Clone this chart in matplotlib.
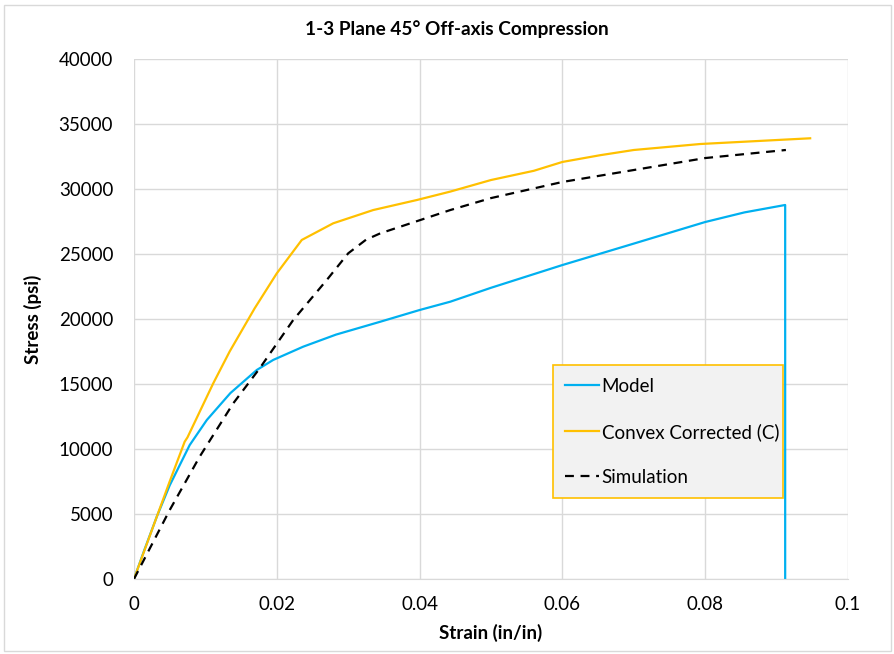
import matplotlib
matplotlib.use('Agg')
import matplotlib.pyplot as plt
from matplotlib.patches import Rectangle

plt.rcParams['font.family'] = ['Lato', 'DejaVu Sans']

# Model curve
model_strain = [0, 0.0015, 0.0032, 0.005, 0.0078, 0.0102, 0.0135, 0.0172, 0.0195, 0.0237,
                0.0283, 0.0345, 0.04, 0.0443, 0.05, 0.06, 0.07, 0.08, 0.0855, 0.0912, 0.0912]
model_stress = [0, 2300, 4800, 7200, 10300, 12230, 14300, 16077, 16850, 17870,
                18800, 19790, 20690, 21330, 22400, 24150, 25800, 27460, 28200, 28770, 0]

# Convex corrected curve
conv_strain = [0, 0.0015, 0.0032, 0.005, 0.0071, 0.0075, 0.0111, 0.0134, 0.0169, 0.02,
               0.0235, 0.0279, 0.0335, 0.0396, 0.0443, 0.05, 0.056, 0.06, 0.0653, 0.07,
               0.0793, 0.0947]
conv_stress = [0, 2250, 4800, 7500, 10560, 10900, 15050, 17500, 20820, 23510,
               26080, 27360, 28380, 29150, 29800, 30690, 31400, 32080, 32600, 33000,
               33460, 33900]

# Simulation curve
sim_strain = [0, 0.005, 0.0092, 0.0139, 0.0176, 0.0223, 0.027, 0.030, 0.0325,
              0.0345, 0.0373, 0.0443, 0.05, 0.06, 0.07, 0.08, 0.0913]
sim_stress = [0, 5300, 9410, 13510, 16200, 19920, 23000, 25050, 26100,
              26590, 27100, 28380, 29300, 30540, 31460, 32380, 33000]

blue = '#00b0f0'
orange = '#ffc000'
grid = '#d9d9d9'

fig = plt.figure(figsize=(8.95, 6.54), dpi=100)
ax = fig.add_axes([0.1497, 0.1147, 0.7978, 0.7951])

ax.plot(model_strain, model_stress, color=blue, lw=1.6, label='Model')
ax.plot(conv_strain, conv_stress, color=orange, lw=1.6, label='Convex Corrected (C)')
ax.plot(sim_strain, sim_stress, color='black', lw=1.6, ls=(0, (4, 3)), label='Simulation')

ax.set_xlim(0, 0.1)
ax.set_ylim(0, 40000)
ax.set_xticks([0, 0.02, 0.04, 0.06, 0.08, 0.1])
ax.set_xticklabels(['0', '0.02', '0.04', '0.06', '0.08', '0.1'])
ax.set_yticks(range(0, 40001, 5000))
ax.grid(True, color=grid, lw=1)
ax.set_axisbelow(True)
for s in ax.spines.values():
    s.set_visible(False)
ax.spines['bottom'].set_visible(True)
ax.spines['bottom'].set_color(grid)
ax.tick_params(length=0, labelsize=13.5, colors='#000000')
ax.tick_params(axis='y', pad=15)
ax.tick_params(axis='x', pad=12)

ax.set_xlabel('Strain (in/in)', fontsize=13.5, fontweight='bold', labelpad=8)
ax.set_ylabel('Stress (psi)', fontsize=13.5, fontweight='bold', labelpad=12)
fig.text(457 / 895, 1 - 29 / 654, '1-3 Plane 45° Off-axis Compression',
         ha='center', va='center', fontsize=13.7, fontweight='bold')

leg = ax.legend(loc='lower left', bbox_to_anchor=((553 - 134) / 714, (579 - 498) / 520,
                                                  (783 - 553) / 714, (498 - 366) / 520),
                mode='expand', fontsize=13.5, frameon=True, fancybox=False,
                handlelength=1.8, handletextpad=0.15, labelspacing=1.5, borderpad=0.65,
                borderaxespad=0)
leg.get_frame().set_facecolor('#f2f2f2')
leg.get_frame().set_edgecolor(orange)
leg.get_frame().set_alpha(1)
leg.get_frame().set_linewidth(1.2)

# chart area border
fig.patches.append(Rectangle((0.004, 0.004), 0.992, 0.989, transform=fig.transFigure,
                             fill=False, edgecolor=grid, lw=1))

fig.savefig('out.png', dpi=100)
